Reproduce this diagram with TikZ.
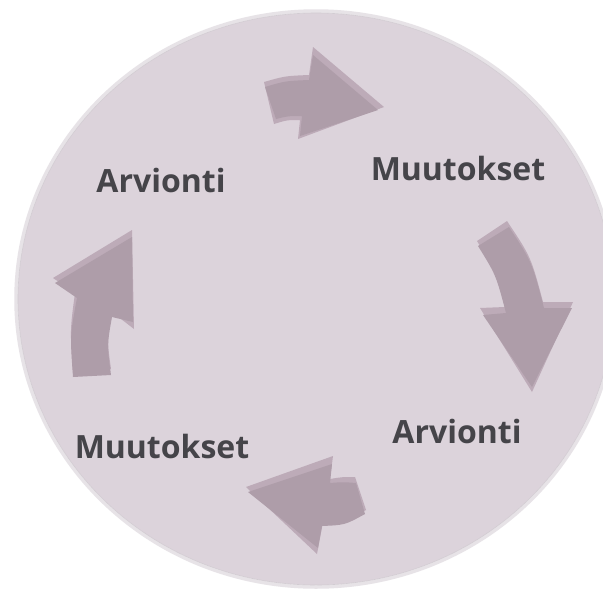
\documentclass[tikz,border=0pt]{standalone}
\usepackage{fontspec}
\setmainfont{Open Sans}
\definecolor{bgfill}{HTML}{DCD3DB}
\definecolor{ringc}{HTML}{E7E3E7}
\definecolor{ringline}{HTML}{D2CCD2}
\definecolor{arrdark}{HTML}{AE9DA9}
\definecolor{arrlight}{HTML}{BDABB8}
\definecolor{txt}{HTML}{454449}
\begin{document}
\begin{tikzpicture}[x=1pt,y=-1pt,
  lbl/.style={anchor=base,text=txt,font=\fontsize{32}{36}\selectfont\bfseries,inner sep=0pt},
  darkarrow/.style={fill=arrdark},
  lightarrow/.style={fill=arrlight}]
\useasboundingbox (0,0) rectangle (603,590);
\fill[white] (0,0) rectangle (603,590);
\begin{scope}
\clip (0,0) rectangle (603,590);
\fill[bgfill] (316,299) ellipse [x radius=298, y radius=286];
\draw[ringc,line width=3.5pt] (316,299) ellipse [x radius=300, y radius=288];
\draw[ringline,line width=0.6pt] (316,299) ellipse [x radius=298, y radius=286];
\end{scope}
% arrow 1 (top, pointing right)
\fill[lightarrow] (264,82) .. controls (285,76) .. (309,75) -- (313,47) -- (384,107) -- (298,139) -- (300,120) .. controls (287,120) .. (274,124) -- cycle;
\fill[darkarrow] (265,87) .. controls (285,81) .. (309,80) -- (313,55) -- (378,110) -- (300,136) -- (302,116) .. controls (288,116) .. (276,119) -- cycle;
% arrow 2 (right, pointing down)
\fill[lightarrow] (507,221) .. controls (531,257) .. (543,302) -- (573,302) -- (532,392) -- (480,308) -- (505,307) .. controls (495,270) .. (477,241) -- cycle;
\fill[darkarrow] (509,227) .. controls (532,262) .. (544,308) -- (572,308) -- (532,387) -- (483,315) -- (506,313) .. controls (496,275) .. (478,246) -- cycle;
% arrow 3 (bottom, pointing left)
\fill[lightarrow] (355,477) .. controls (342,477) .. (330,479) -- (333,456) -- (246,487) -- (317,554) -- (323,522) .. controls (346,521) .. (366,510) -- cycle;
\fill[darkarrow] (356,483) .. controls (343,482) .. (330,483) -- (332,464) -- (248,492) -- (318,548) -- (322,526) .. controls (345,525) .. (365,514) -- cycle;
% arrow 4 (left, pointing up)
\fill[lightarrow] (73,372) .. controls (70,330) .. (75,293) -- (53,278) -- (132,230) -- (134,329) -- (112,312) .. controls (107,340) .. (111,369) -- cycle;
\fill[darkarrow] (73,377) .. controls (70,335) .. (77,298) -- (55,283) -- (132,237) -- (133,322) -- (112,317) .. controls (107,345) .. (111,375) -- cycle;
% labels
\node[lbl] (arv1) at (161,192) {Arvionti};
\node[lbl] (muu1) at (458,180) {Muutokset};
\node[lbl] (arv2) at (457,443) {Arvionti};
\node[lbl] (muu2) at (162,458) {Muutokset};
\end{tikzpicture}
\end{document}
